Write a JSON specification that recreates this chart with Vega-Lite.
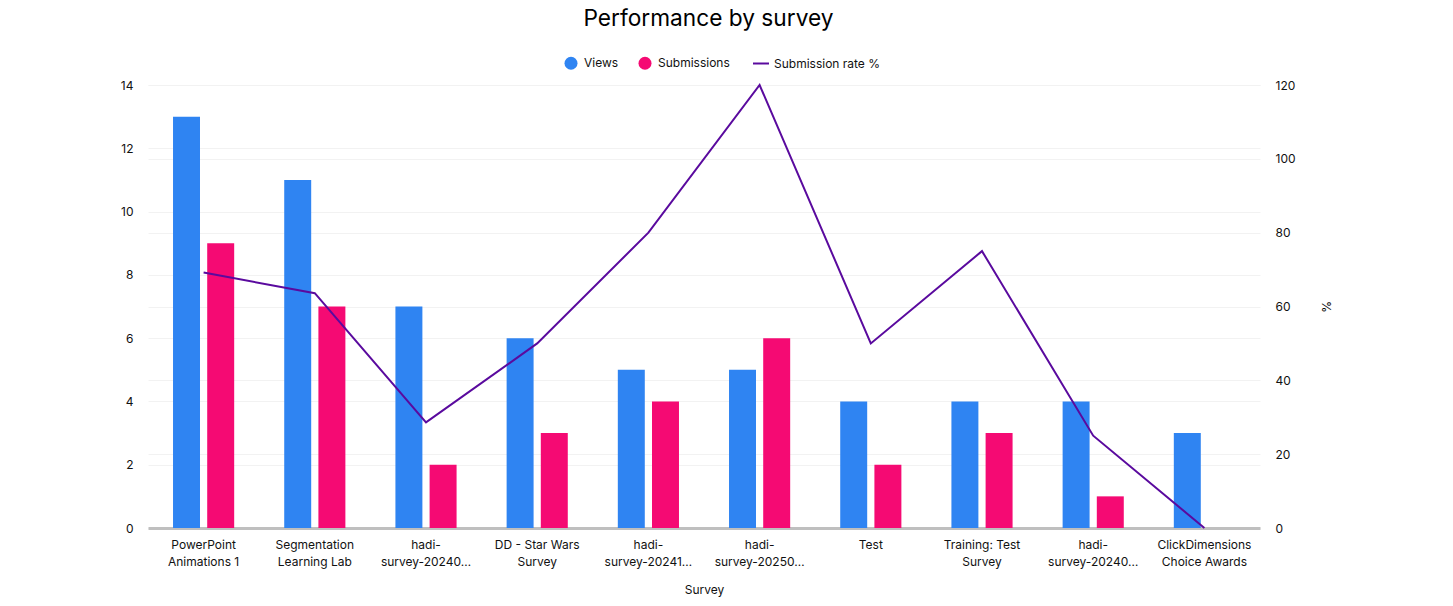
{
"$schema":"https://vega.github.io/schema/vega-lite/v6.json",
"width":1112,"height":443,
"autosize":{"type":"none"},
"padding":{"left":148,"top":85,"right":193,"bottom":78},
"background":"white",
"config":{"font":"Inter","view":{"stroke":null}},
"title":{"text":"Performance by survey","fontSize":22.7,"fontWeight":"normal","color":"#000000","font":"Inter","anchor":"middle","offset":26,"dx":4.5},
"data":{"values":[
{"survey":"PowerPoint|Animations 1","Views":13,"Submissions":9,"rate":69.2},
{"survey":"Segmentation|Learning Lab","Views":11,"Submissions":7,"rate":63.6},
{"survey":"hadi-|survey-20240…","Views":7,"Submissions":2,"rate":28.6},
{"survey":"DD - Star Wars|Survey","Views":6,"Submissions":3,"rate":50},
{"survey":"hadi-|survey-20241…","Views":5,"Submissions":4,"rate":80},
{"survey":"hadi-|survey-20250…","Views":5,"Submissions":6,"rate":120},
{"survey":"Test","Views":4,"Submissions":2,"rate":50},
{"survey":"Training: Test|Survey","Views":4,"Submissions":3,"rate":75},
{"survey":"hadi-|survey-20240… ","Views":4,"Submissions":1,"rate":25},
{"survey":"ClickDimensions|Choice Awards","Views":3,"Submissions":0,"rate":0}
]},
"encoding":{
"x":{"field":"survey","type":"nominal","sort":null,"title":"Survey","scale":{"paddingInner":0.45,"paddingOuter":0.225},
"axis":{"labelAngle":0,"labelExpr":"split(datum.label,'|')","labelFontSize":12,"labelColor":"#111111","labelLimit":0,"labelLineHeight":17,"labelPadding":11,"labelBaseline":"top","ticks":false,"domainColor":"#bfbfbf","domainWidth":3,"grid":false,"titleFontSize":12,"titleFontWeight":"normal","titleColor":"#111111","titlePadding":17}}
},
"layer":[
{"transform":[{"fold":["Views","Submissions"],"as":["series","count"]}],
"mark":{"type":"bar"},
"encoding":{
"xOffset":{"field":"series","type":"nominal","sort":["Views","Submissions"],"scale":{"paddingInner":0.211}},
"y":{"field":"count","type":"quantitative","title":null,"scale":{"domain":[0,14]},
"axis":{"values":[0,2,4,6,8,10,12,14],"labelFontSize":12,"labelColor":"#111111","labelPadding":15,"ticks":false,"domain":false,"gridColor":"#f2f2f2","gridWidth":1}},
"color":{"field":"series","type":"nominal","title":null,
"scale":{"domain":["Views","Submissions","Submission rate %"],"range":["#2F84F2","#F50A73","#5A0A9E"]},
"legend":{"orient":"none","legendX":417,"legendY":-28,"direction":"horizontal","columns":3,"labelFontSize":12,"labelColor":"#111111","symbolSize":169,"symbolStrokeWidth":0,"labelOffset":7,"columnPadding":19,"title":null,
"encode":{"symbols":{"update":{"shape":{"signal":"datum.value === 'Submission rate %' ? 'stroke' : 'circle'"},"size":{"signal":"datum.value === 'Submission rate %' ? 256 : 169"},"strokeWidth":{"signal":"datum.value === 'Submission rate %' ? 2 : 0"},"stroke":{"signal":"scale('color', datum.value)"},"fill":{"signal":"datum.value === 'Submission rate %' ? 'transparent' : scale('color', datum.value)"}}}}}}
}},
{"mark":{"type":"line","strokeWidth":2,"interpolate":"linear"},
"encoding":{
"y":{"field":"rate","type":"quantitative","title":"%","scale":{"domain":[0,120]},
"axis":{"orient":"right","values":[0,20,40,60,80,100,120],"labelFontSize":12,"labelColor":"#111111","labelPadding":15,"ticks":false,"domain":false,"grid":true,"gridColor":"#f2f2f2","gridWidth":1,"titleFontSize":12,"titleFontWeight":"normal","titleColor":"#111111","titlePadding":23}},
"color":{"datum":"Submission rate %"}
}}
],
"resolve":{"scale":{"y":"independent"}}
}
